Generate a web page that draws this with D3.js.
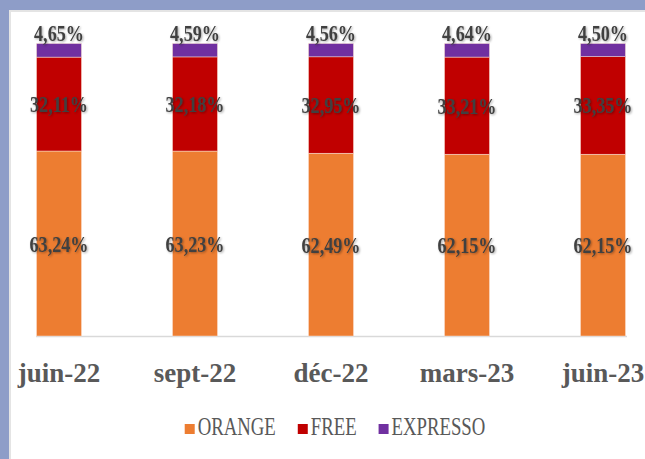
<!DOCTYPE html>
<html>
<head>
<meta charset="utf-8">
<script src="https://cdn.jsdelivr.net/npm/d3@7"></script>
<style>
  body { margin: 0; background: #fff; }
  svg { display: block; }
</style>
</head>
<body>
<div id="chart"></div>
<script>
var periods = ["juin-22", "sept-22", "déc-22", "mars-23", "juin-23"];
var seriesNames = ["ORANGE", "FREE", "EXPRESSO"];
var orange = [63.24, 63.23, 62.49, 62.15, 62.15];
var free = [32.11, 32.18, 32.95, 33.21, 33.35];
var expresso = [4.65, 4.59, 4.56, 4.64, 4.50];
var colors = ["#ED7D31", "#C00000", "#7030A0"];

var w = 645, h = 459;
var fmt = function(v) { return v.toFixed(2).replace(".", ",") + "%"; };

var svg = d3.select("#chart").append("svg")
  .attr("width", w)
  .attr("height", h);

var defs = svg.append("defs");
var f = defs.append("filter").attr("id", "shadow")
  .attr("x", "-10%").attr("y", "-10%").attr("width", "130%").attr("height", "140%");
f.append("feDropShadow")
  .attr("dx", 1).attr("dy", 1).attr("stdDeviation", 0.8)
  .attr("flood-color", "#000").attr("flood-opacity", 0.35);

// frame
svg.append("rect").attr("x", 0).attr("y", 0).attr("width", w).attr("height", h)
  .attr("fill", "#8E9DC8");
svg.append("rect").attr("x", 9).attr("y", 10).attr("width", w - 9).attr("height", h - 10)
  .attr("fill", "#e4e4e4");
svg.append("rect").attr("x", 11).attr("y", 12).attr("width", w - 11).attr("height", h - 12)
  .attr("fill", "#fff");

var x = d3.scalePoint().domain(periods).range([59, 603]);
var y = d3.scaleLinear().domain([0, 100]).range([336, 43.5]);
var bw = 45;

var rows = periods.map(function(p, i) {
  return { period: p, ORANGE: orange[i], FREE: free[i], EXPRESSO: expresso[i] };
});
var stacked = d3.stack().keys(seriesNames)(rows);

// baseline
svg.append("line")
  .attr("x1", 36).attr("x2", 627)
  .attr("y1", y(0) + 0.5).attr("y2", y(0) + 0.5)
  .attr("stroke", "#d9d9d9").attr("stroke-width", 1.5);

var layers = svg.selectAll("g.layer")
  .data(stacked)
  .enter().append("g")
  .attr("class", "layer")
  .attr("fill", function(d, i) { return colors[i]; });

layers.selectAll("rect")
  .data(function(d) { return d; })
  .enter().append("rect")
  .attr("x", function(d) { return x(d.data.period) - bw / 2; })
  .attr("y", function(d) { return y(d[1]); })
  .attr("width", bw)
  .attr("height", function(d) { return y(d[0]) - y(d[1]); })
  .attr("stroke", "#fbe3d6")
  .attr("stroke-width", 0.5);

// value labels
var labels = svg.append("g")
  .attr("font-family", "'Liberation Serif', 'Times New Roman', serif")
  .attr("font-weight", "bold")
  .attr("font-size", 23)
  .attr("fill", "#404040")
  .attr("text-anchor", "middle")
  .attr("filter", "url(#shadow)");

stacked.forEach(function(layer, li) {
  layer.forEach(function(d) {
    var cx = x(d.data.period);
    var cy;
    if (li === 2) {
      cy = y(d[1]) - 3;
    } else {
      cy = (y(d[0]) + y(d[1])) / 2 + 8;
    }
    labels.append("text")
      .attr("transform", "translate(" + cx + "," + cy + ") scale(0.79,1)")
      .text(fmt(d[1] - d[0]));
  });
});

// category axis labels
svg.append("g").selectAll("text")
  .data(periods)
  .enter().append("text")
  .attr("x", function(d) { return x(d); })
  .attr("y", 382)
  .attr("text-anchor", "middle")
  .attr("font-family", "'Liberation Serif', 'Times New Roman', serif")
  .attr("font-weight", "bold")
  .attr("font-size", 27)
  .attr("fill", "#595959")
  .text(function(d) { return d; });

// legend
var legend = svg.append("g");
var sx = 0.75, gap = 22, pos = 0;
var items = seriesNames.map(function(name, i) {
  var g = legend.append("g");
  g.append("rect").attr("x", 0).attr("y", -11).attr("width", 10).attr("height", 10)
    .attr("fill", colors[i]);
  var t = g.append("text")
    .attr("transform", "translate(13,0) scale(" + sx + ",1)")
    .attr("font-family", "'Liberation Serif', 'Times New Roman', serif")
    .attr("font-size", 25)
    .attr("fill", "#595959")
    .text(name);
  var width = 13 + t.node().getComputedTextLength() * sx;
  g.attr("transform", "translate(" + pos + ",0)");
  pos += width + gap;
  return g;
});
var legendWidth = pos - gap;
legend.attr("transform", "translate(" + (335 - legendWidth / 2) + ",435)");
</script>
</body>
</html>
